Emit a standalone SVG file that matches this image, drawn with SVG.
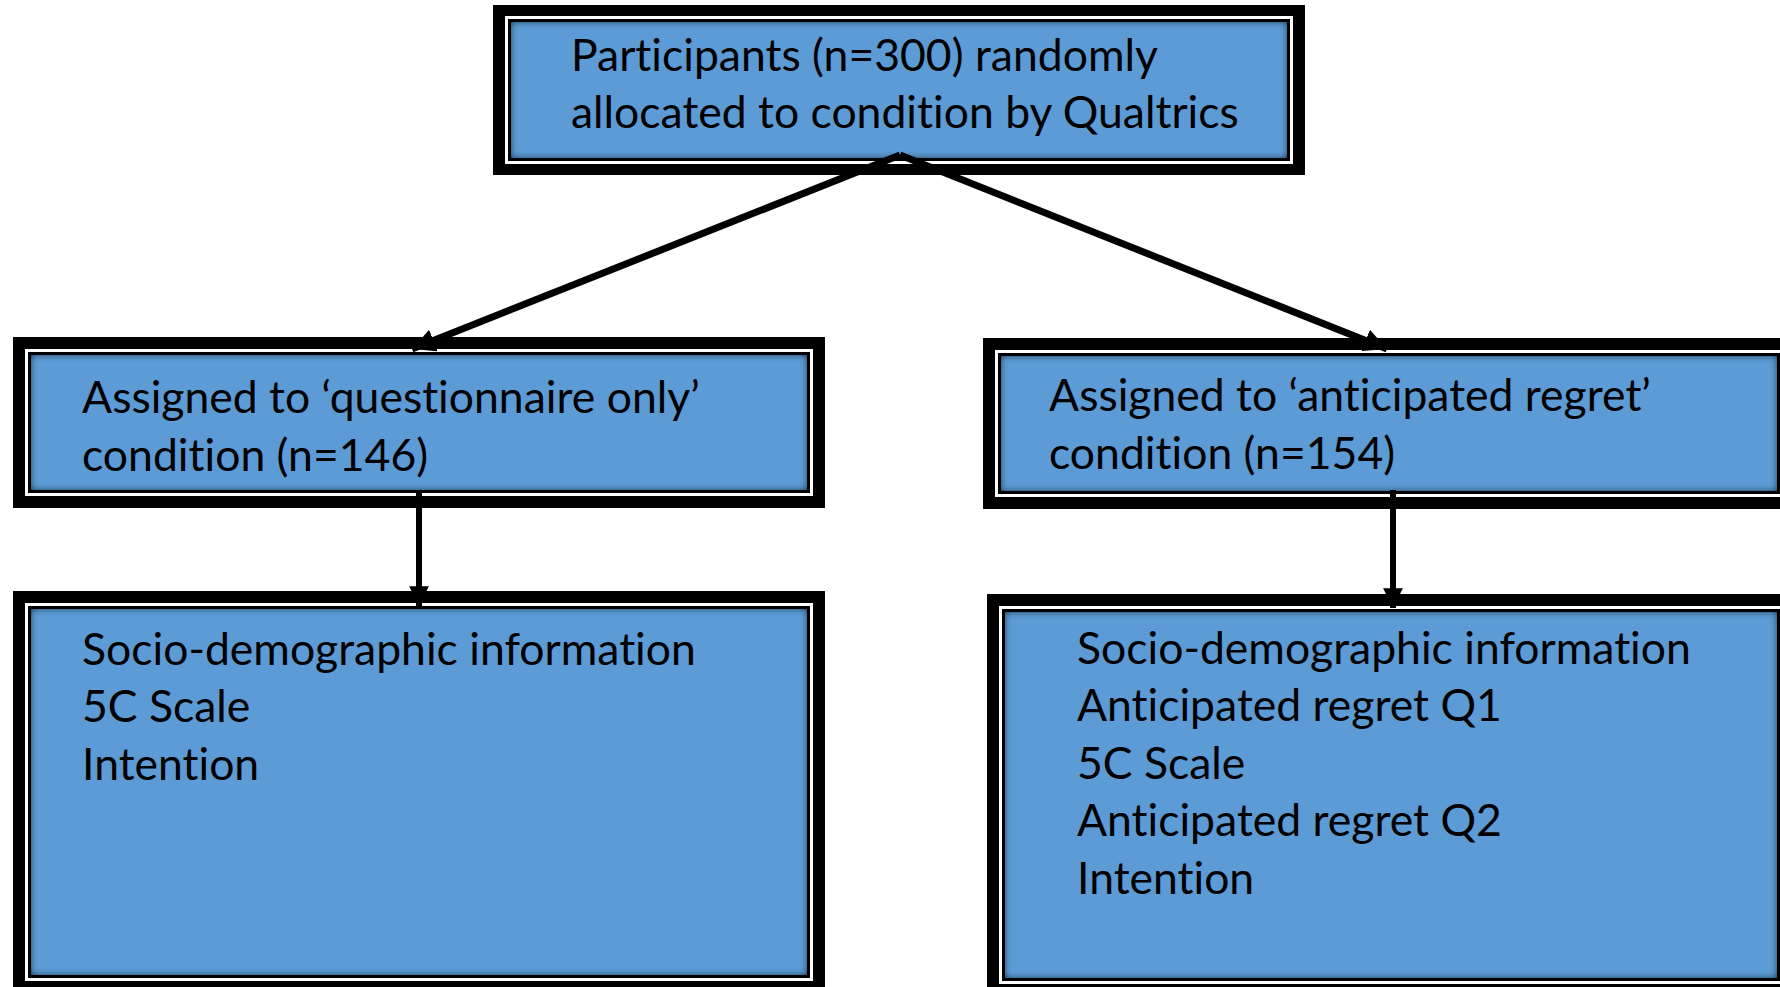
<svg xmlns="http://www.w3.org/2000/svg" width="1780" height="987" viewBox="0 0 1780 987">
<defs>
<style>
.outer{fill:#000}
.gap{fill:#fff}
.line{fill:#000}
.blue{fill:#5B9BD5;filter:url(#inset)}
.t{font-family:Lato,"Liberation Sans",sans-serif;font-size:44.5px;fill:#000;font-variant-ligatures:none}
.c{stroke:#000;fill:none}
</style>
<filter id="inset" x="-5%" y="-10%" width="110%" height="120%">
<feComponentTransfer in="SourceAlpha" result="inv"><feFuncA type="table" tableValues="1 0"/></feComponentTransfer>
<feGaussianBlur in="inv" stdDeviation="3.5" result="blur"/>
<feComposite in="blur" in2="SourceAlpha" operator="in" result="sh"/>
<feComponentTransfer in="sh" result="sh2"><feFuncA type="linear" slope="1.1"/></feComponentTransfer>
<feMerge><feMergeNode in="SourceGraphic"/><feMergeNode in="sh2"/></feMerge>
</filter>
<marker id="ah" viewBox="0 0 10 10" refX="10" refY="5" markerWidth="3.3" markerHeight="3.3" orient="auto" markerUnits="strokeWidth">
<path d="M0,0 L10,5 L0,10 Z" fill="#000"/>
</marker>
</defs>
<rect width="1780" height="987" fill="#fff"/>

<g id="node-top">
<rect class="outer" x="493" y="5" width="812" height="170"/>
<rect class="gap" x="505" y="16" width="788" height="148"/>
<rect class="line" x="508" y="19" width="782" height="142"/>
<rect class="blue" x="511" y="22" width="776" height="136"/>
<text class="t" x="571" y="71">Participants (n=300) randomly</text>
<text class="t" x="571" y="128">allocated to condition by Qualtrics</text>
</g>

<g id="node-questionnaire">
<rect class="outer" x="13" y="337" width="812" height="171"/>
<rect class="gap" x="25" y="349" width="788" height="147"/>
<rect class="line" x="28" y="352" width="782" height="141"/>
<rect class="blue" x="31" y="355" width="776" height="135"/>
<text class="t" x="82" y="413">Assigned to ‘questionnaire only’</text>
<text class="t" x="82" y="471">condition (n=146)</text>
</g>

<g id="node-regret">
<rect class="outer" x="983" y="338" width="812" height="171"/>
<rect class="gap" x="995" y="350" width="788" height="147"/>
<rect class="line" x="998" y="353" width="782" height="141"/>
<rect class="blue" x="1001" y="356" width="776" height="135"/>
<text class="t" x="1049" y="411">Assigned to ‘anticipated regret’</text>
<text class="t" x="1049" y="469">condition (n=154)</text>
</g>

<g id="node-questionnaire-measures">
<rect class="outer" x="13" y="591" width="812" height="402"/>
<rect class="gap" x="25" y="603" width="788" height="378"/>
<rect class="line" x="28" y="606" width="782" height="372"/>
<rect class="blue" x="31" y="609" width="776" height="366"/>
<text class="t" x="82" y="665">Socio-demographic information</text>
<text class="t" x="82" y="722">5C Scale</text>
<text class="t" x="82" y="780">Intention</text>
</g>

<g id="node-regret-measures">
<rect class="outer" x="987" y="594" width="808" height="402"/>
<rect class="gap" x="999" y="606" width="784" height="378"/>
<rect class="line" x="1002" y="609" width="778" height="372"/>
<rect class="blue" x="1005" y="612" width="772" height="366"/>
<text class="t" x="1077" y="664">Socio-demographic information</text>
<text class="t" x="1077" y="721">Anticipated regret Q1</text>
<text class="t" x="1077" y="779">5C Scale</text>
<text class="t" x="1077" y="836">Anticipated regret Q2</text>
<text class="t" x="1077" y="894">Intention</text>
</g>

<g id="connectors">
<line class="c" x1="900" y1="155" x2="412" y2="349" stroke-width="7" marker-end="url(#ah)"/>
<line class="c" x1="900" y1="155" x2="1387" y2="349" stroke-width="7" marker-end="url(#ah)"/>
<line class="c" x1="419" y1="492" x2="419" y2="606" stroke-width="6" marker-end="url(#ah)"/>
<line class="c" x1="1393" y1="490" x2="1393" y2="608" stroke-width="6" marker-end="url(#ah)"/>
</g>
</svg>
